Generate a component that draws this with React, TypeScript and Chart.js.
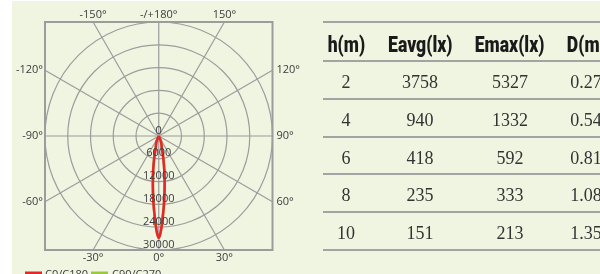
import React, { useEffect, useRef } from 'react';
import { Chart, registerables } from 'chart.js';

Chart.register(...registerables);

// ---- photometric data (candela) ----
const beamAngles = [-30, -25, -22, -20, -18, -16, -14, -13, -12, -11, -10, -9, -8, -7, -6, -5, -4, -3, -2, -1, 0, 1, 2, 3, 4, 5, 6, 7, 8, 9, 10, 11, 12, 13, 14, 16, 18, 20, 22, 25, 30];
const c0c180 = [0, 700, 1400, 1850, 2300, 2750, 3250, 4400, 5500, 6600, 8000, 9500, 11000, 12800, 14600, 16600, 18800, 20900, 23400, 25600, 26850, 25600, 23400, 20900, 18800, 16600, 14600, 12800, 11000, 9500, 8000, 6600, 5500, 4400, 3250, 2750, 2300, 1850, 1400, 700, 0];
const c90c270 = [0, 700, 1400, 1850, 2300, 2750, 3250, 4400, 5500, 6600, 8000, 9500, 11000, 12800, 14600, 16600, 18800, 20900, 23400, 25600, 26850, 25600, 23400, 20900, 18800, 16600, 14600, 12800, 11000, 9500, 8000, 6600, 5500, 4400, 3250, 2750, 2300, 1850, 1400, 700, 0];
const seriesNames = ['C0/C180', 'C90/C270'];

const ringValues = [0, 6000, 12000, 18000, 24000, 30000];
const spokeAngles = [0, 30, 60, 90, 120, 150, 180, -150, -120, -90, -60, -30];
const spokeLabels = ['0°', '30°', '60°', '90°', '120°', '150°', '-/+180°', '-150°', '-120°', '-90°', '-60°', '-30°'];
const maxRadius = 30000;

// ---- table data ----
const tableHeaders = ['h(m)', 'Eavg(lx)', 'Emax(lx)', 'D(m)'];
const mountHeights = ['2', '4', '6', '8', '10'];
const eavgLux = ['3758', '940', '418', '235', '151'];
const emaxLux = ['5327', '1332', '592', '333', '213'];
const spotDiameter = ['0.27', '0.54', '0.81', '1.08', '1.35'];

const RED = '#e8262a';
const GREEN = '#9cc83c';
const GRID = '#9c9c9c';
const TEXT = '#3c3c3c';
const FONT = '11px "Open Sans", "Noto Sans", sans-serif';

function toXY(values: number[]) {
  return values.map((v, i) => {
    const t = (beamAngles[i] * Math.PI) / 180;
    return { x: v * Math.sin(t), y: -v * Math.cos(t) };
  });
}

function spokeEnd(deg: number) {
  const t = (deg * Math.PI) / 180;
  const s = Math.sin(t);
  const c = -Math.cos(t);
  const k = maxRadius / Math.max(Math.abs(s), Math.abs(c));
  return { x: k * s, y: k * c, side: Math.abs(s) > Math.abs(c) + 1e-6 };
}

const polarGrid = {
  id: 'polarGrid',
  beforeDatasetsDraw(chart: any) {
    const { ctx, chartArea: a, scales } = chart;
    const xs = scales.x;
    const ys = scales.y;
    const cx = xs.getPixelForValue(0);
    const cy = ys.getPixelForValue(0);
    ctx.save();
    ctx.strokeStyle = GRID;
    ctx.lineWidth = 1.2;
    ringValues.forEach((v) => {
      if (!v) return;
      const rx = xs.getPixelForValue(v) - cx;
      const ry = ys.getPixelForValue(-v) - cy;
      ctx.beginPath();
      ctx.ellipse(cx, cy, rx, ry, 0, 0, Math.PI * 2);
      ctx.stroke();
    });
    spokeAngles.forEach((deg) => {
      const e = spokeEnd(deg);
      ctx.beginPath();
      ctx.moveTo(cx, cy);
      ctx.lineTo(xs.getPixelForValue(e.x), ys.getPixelForValue(e.y));
      ctx.stroke();
    });
    ctx.lineWidth = 2;
    ctx.strokeStyle = '#9c9c9c';
    ctx.strokeRect(a.left, a.top, a.right - a.left, a.bottom - a.top);
    ctx.restore();
  },
  afterDatasetsDraw(chart: any) {
    const { ctx, chartArea: a, scales } = chart;
    const xs = scales.x;
    const ys = scales.y;
    const cx = xs.getPixelForValue(0);
    const cy = ys.getPixelForValue(0);
    ctx.save();
    ctx.font = FONT;
    ctx.fillStyle = TEXT;
    ctx.textBaseline = 'middle';
    // ring labels
    ctx.textAlign = 'center';
    ringValues.forEach((v) => {
      ctx.fillText(String(v), cx, ys.getPixelForValue(-v) - 5.5);
    });
    // angle labels
    spokeAngles.forEach((deg, i) => {
      const e = spokeEnd(deg);
      const px = xs.getPixelForValue(e.x);
      const py = ys.getPixelForValue(e.y);
      if (e.side) {
        if (e.x < 0) {
          ctx.textAlign = 'right';
          ctx.fillText(spokeLabels[i], a.left - 2, py);
        } else {
          ctx.textAlign = 'left';
          ctx.fillText(spokeLabels[i], a.right + 4, py);
        }
      } else {
        ctx.textAlign = 'center';
        if (e.y > 0) ctx.fillText(spokeLabels[i], px, a.top - 7);
        else ctx.fillText(spokeLabels[i], px, a.bottom + 8);
      }
    });
    // legend
    const ly = a.bottom + 23;
    const items = [
      { name: seriesNames[0], color: RED, x0: 25, x1: 42, tx: 45 },
      { name: seriesNames[1], color: GREEN, x0: 91, x1: 108, tx: 112 },
    ];
    ctx.textAlign = 'left';
    items.forEach((it) => {
      ctx.fillStyle = it.color;
      ctx.fillRect(it.x0, ly - 1.5, it.x1 - it.x0, 3);
      ctx.fillStyle = TEXT;
      ctx.fillText(it.name, it.tx, ly + 2);
    });
    ctx.restore();
  },
};

const lineYs = [22, 61, 99, 137, 174, 212, 250];
const colCenters = [346, 420, 510, 586];

export default function App() {
  const ref = useRef<HTMLCanvasElement>(null);

  useEffect(() => {
    const chart = new Chart(ref.current as HTMLCanvasElement, {
      type: 'scatter',
      data: {
        datasets: [
          {
            label: seriesNames[0],
            data: toXY(c0c180),
            showLine: true,
            borderColor: RED,
            backgroundColor: RED,
            borderWidth: 2.6,
            pointRadius: 0,
            tension: 0.3,
          },
          {
            label: seriesNames[1],
            data: toXY(c90c270),
            showLine: true,
            borderColor: GREEN,
            backgroundColor: GREEN,
            borderWidth: 2.6,
            pointRadius: 0,
            tension: 0.3,
          },
        ],
      },
      options: {
        responsive: false,
        animation: false,
        devicePixelRatio: 1,
        layout: { padding: { left: 45, right: 27.5, top: 22, bottom: 24 } },
        scales: {
          x: { type: 'linear', min: -maxRadius, max: maxRadius, display: false },
          y: { type: 'linear', min: -maxRadius, max: maxRadius, display: false },
        },
        plugins: {
          legend: { display: false },
          tooltip: { enabled: false },
        },
      },
      plugins: [polarGrid],
    } as any);
    return () => chart.destroy();
  }, []);

  const rows = mountHeights.map((h, i) => [h, eavgLux[i], emaxLux[i], spotDiameter[i]]);

  return (
    <div style={{ position: 'fixed', left: 0, top: 0, width: 600, height: 274, overflow: 'hidden', background: '#fff' }}>
      <div style={{ position: 'absolute', left: 12, top: 1, right: 0, bottom: 0, background: '#f0f5e1' }} />
      <canvas ref={ref} width={300} height={274} style={{ position: 'absolute', left: 0, top: 0, width: 300, height: 274 }} />
      {lineYs.map((y, i) => (
        <div key={'l' + i} style={{ position: 'absolute', left: 323, width: 300, top: y - 1, height: 2, background: '#a3a3a3' }} />
      ))}
      {tableHeaders.map((t, j) => (
        <div
          key={'h' + j}
          style={{
            position: 'absolute',
            left: colCenters[j] - 60,
            width: 120,
            top: 32,
            height: 30,
            lineHeight: '30px',
            textAlign: 'center',
            font: '900 22px Roboto, "DejaVu Sans", sans-serif',
            color: '#1a1a1a',
            whiteSpace: 'nowrap',
          }}
        >
          <span style={{ display: 'inline-block', transform: 'scaleX(0.8)' }}>{t}</span>
        </div>
      ))}
      {rows.map((r, i) =>
        r.map((v, j) => (
          <div
            key={'c' + i + '-' + j}
            style={{
              position: 'absolute',
              left: colCenters[j] - 50,
              width: 100,
              top: 72 + i * 37.8,
              height: 30,
              lineHeight: '30px',
              textAlign: 'center',
              font: '18px "Liberation Serif", "DejaVu Serif", serif',
              color: '#333',
              whiteSpace: 'nowrap',
            }}
          >
            {v}
          </div>
        ))
      )}
    </div>
  );
}
